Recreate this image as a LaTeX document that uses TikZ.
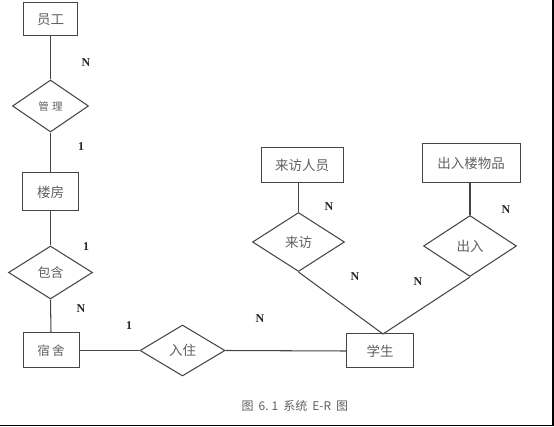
\documentclass[tikz,border=0pt]{standalone}
\usepackage{fontspec}
\setmainfont{Liberation Serif}
\newfontfamily\cjk{Noto Sans CJK SC}
\usetikzlibrary{shapes.geometric}
\definecolor{linec}{HTML}{454545}
\definecolor{txtc}{HTML}{606060}
\tikzset{
  ent/.style 2 args={draw=linec, line width=1.0pt, rectangle, inner sep=0pt,
    minimum width=#1, minimum height=#2, text=txtc, font=\cjk\fontsize{13.5}{15}\selectfont},
  rel/.style 2 args={draw=linec, line width=1.05pt, diamond, inner sep=0pt,
    minimum width=#1, minimum height=#2, text=txtc, font=\cjk\fontsize{13.5}{15}\selectfont},
  conn/.style={draw=linec, line width=1.05pt},
  card/.style={font=\fontsize{12}{13}\selectfont\bfseries, text=black!85, inner sep=0pt},
}
\begin{document}
\begin{tikzpicture}[x=1pt,y=-1pt]
\useasboundingbox (0,0) rectangle (554,427);
% entities
\node[ent={54pt}{33pt}] (e1) at (50.5,19.5) {员工};
\node[ent={56pt}{38pt}] (e2) at (50.5,192) {楼房};
\node[ent={56pt}{35pt}, font=\cjk\fontsize{12.5}{14}\selectfont] (e3) at (51,350.5) {宿\,舍};
\node[ent={67pt}{34pt}] (e4) at (380,351) {学生};
\node[ent={82pt}{35pt}] (e5) at (302,165.5) {来访人员};
\node[ent={98pt}{39pt}] (e6) at (471,163.5) {出入楼物品};
% relationships
\node[rel={76pt}{52pt}, font=\cjk\fontsize{10.5}{12}\selectfont] (r1) at (50.5,106) {管\,\,理};
\node[rel={84pt}{53pt}, font=\cjk\fontsize{13}{15}\selectfont] (r2) at (50.5,272.5) {包含};
\node[rel={85pt}{51pt}] (r3) at (182.5,350.5) {入住};
\node[rel={92pt}{59pt}] (r4) at (298.5,242) {来访};
\node[rel={93pt}{61pt}] (r5) at (470,246) {出入};
\coordinate (s) at (383,334);
% connectors
\draw[conn] (e1.south) -- (r1.north);
\draw[conn] (r1.south) -- (e2.north);
\draw[conn] (e2.south) -- (r2.north);
\draw[conn] (r2.south) -- (e3.north);
\draw[conn] (e3.east) -- (r3.west);
\draw[conn] (r3.east) -- (e4.west);
\draw[conn] (r4.north) -- (r4.north |- e5.south);
\draw[conn] (r5.north) -- (r5.north |- e6.south);
\draw[conn] (r4.south) -- (s);
\draw[conn] (r5.south) -- (s);
% cardinalities
\node[card] (c1) at (86,63) {N};
\node[card] (c2) at (81,147) {1};
\node[card] (c3) at (86,247) {1};
\node[card] (c4) at (81,309) {N};
\node[card] (c5) at (129,326) {1};
\node[card] (c6) at (260,319) {N};
\node[card] (c7) at (329,207) {N};
\node[card] (c8) at (506,210) {N};
\node[card] (c9) at (355,277) {N};
\node[card] (c10) at (418,282) {N};
% caption
\node[text=txtc, font=\cjk\fontsize{12}{14}\selectfont] (cap) at (295,406) {图\hspace{5pt}6.\hspace{3pt}1\hspace{5pt}系统\hspace{5pt}E-R\hspace{5pt}图};
% frame
\draw[line width=1.4pt, black] (0,425.6) -- (552.8,425.6) -- (552.8,0);
\end{tikzpicture}
\end{document}
